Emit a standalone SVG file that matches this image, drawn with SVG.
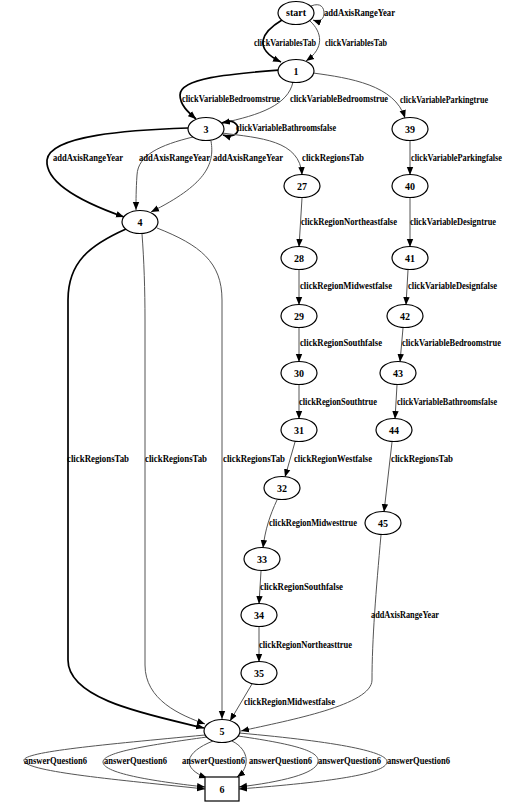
<svg xmlns="http://www.w3.org/2000/svg" width="521" height="810" viewBox="0 0 521 810">
<style>
.n ellipse,.n rect{fill:#fff;stroke:#000;stroke-width:1.2}
text{font-family:"Liberation Serif","Times New Roman",serif;font-size:10px;font-weight:bold;fill:#000}
.n text{text-anchor:middle}
.e{fill:none;stroke:#555;stroke-width:1;marker-end:url(#ah)}
.k{fill:none;stroke:#000;stroke-width:1.7;marker-end:url(#ah)}
</style>
<defs>
<marker id="ah" markerUnits="userSpaceOnUse" markerWidth="8" markerHeight="8" viewBox="0 0 10 10" refX="10" refY="5" orient="auto">
<path d="M0,1 L10,5 L0,9 Z" fill="#000"/>
</marker>
</defs>
<rect width="521" height="810" fill="#fff"/>
<g id="edges">
<path class="e" d="M311,6 C321,2 324,8 324,13 C324,18 321,23 313,20"/>
<path class="k" d="M282,20 C262,32 252,48 281,62"/>
<path class="e" d="M310,21 C322,32 325,48 306,61"/>
<path class="k" d="M279,70 C230,74 180,78 180,95 C180,105 188,112 196,119"/>
<path class="e" d="M293,82 C288,105 260,115 222,123"/>
<path class="e" d="M313,73 C350,78 395,85 405,118"/>
<path class="k" d="M222,123 C232,118 238,124 238,129 C238,134 232,138 223,135"/>
<path class="k" d="M188,128 C130,130 50,135 47,160 C45,185 90,205 124,217"/>
<path class="e" d="M193,137 C160,145 138,155 137,175 C136,190 136,200 136,210"/>
<path class="e" d="M211,141 C215,165 205,185 151,212"/>
<path class="e" d="M222,133 C260,138 300,140 302,175"/>
<path class="e" d="M410,141 L410,175"/>
<path class="e" d="M302,198 L299,247"/>
<path class="e" d="M299,270 L299,305"/>
<path class="e" d="M299,328 L299,362"/>
<path class="e" d="M299,385 L299,419"/>
<path class="e" d="M410,198 L410,247"/>
<path class="e" d="M408,270 L406,305"/>
<path class="e" d="M403,328 L400,362"/>
<path class="e" d="M397,385 L395,419"/>
<path class="e" d="M392,442 L384,512"/>
<path class="e" d="M295,442 L285,477"/>
<path class="e" d="M277,500 C270,515 265,530 263,548"/>
<path class="e" d="M261,571 L259,604"/>
<path class="e" d="M259,627 L259,662"/>
<path class="e" d="M252,684 L230,721"/>
<path class="e" d="M381,535 C376,590 372,640 372,680 C372,705 290,720 241,731"/>
<path class="k" d="M126,229 C90,245 68,262 68,300 L68,660 C68,700 150,715 204,728"/>
<path class="e" d="M142,234 C144,260 145,290 145,320 L145,665 C145,700 180,715 205,724"/>
<path class="e" d="M157,228 C200,245 222,262 222,300 L222,719"/>
<path class="e" d="M205,735 C100,745 20,752 24,761 C28,772 120,780 205,789"/>
<path class="e" d="M207,737 C150,745 103,752 103,762 C103,774 160,782 205,787"/>
<path class="e" d="M213,741 C185,752 180,768 207,778"/>
<path class="e" d="M232,741 C250,750 250,768 237,777"/>
<path class="e" d="M238,736 C300,745 320,752 318,762 C316,774 280,782 239,787"/>
<path class="e" d="M239,733 C340,742 388,752 387,762 C386,774 330,782 239,789"/>
</g>
<g id="edge-labels">
<text x="324" y="16" textLength="71" lengthAdjust="spacingAndGlyphs">addAxisRangeYear</text>
<text x="254" y="46" textLength="62" lengthAdjust="spacingAndGlyphs">clickVariablesTab</text>
<text x="325" y="46" textLength="62" lengthAdjust="spacingAndGlyphs">clickVariablesTab</text>
<text x="182" y="102" textLength="98" lengthAdjust="spacingAndGlyphs">clickVariableBedroomstrue</text>
<text x="290" y="102" textLength="98" lengthAdjust="spacingAndGlyphs">clickVariableBedroomstrue</text>
<text x="400" y="103" textLength="88" lengthAdjust="spacingAndGlyphs">clickVariableParkingtrue</text>
<text x="236" y="131" textLength="100" lengthAdjust="spacingAndGlyphs">clickVariableBathroomsfalse</text>
<text x="53" y="161" textLength="70" lengthAdjust="spacingAndGlyphs">addAxisRangeYear</text>
<text x="139" y="161" textLength="71" lengthAdjust="spacingAndGlyphs">addAxisRangeYear</text>
<text x="213" y="161" textLength="70" lengthAdjust="spacingAndGlyphs">addAxisRangeYear</text>
<text x="302" y="161" textLength="62" lengthAdjust="spacingAndGlyphs">clickRegionsTab</text>
<text x="411" y="161" textLength="91" lengthAdjust="spacingAndGlyphs">clickVariableParkingfalse</text>
<text x="301" y="225" textLength="96" lengthAdjust="spacingAndGlyphs">clickRegionNortheastfalse</text>
<text x="410" y="225" textLength="86" lengthAdjust="spacingAndGlyphs">clickVariableDesigntrue</text>
<text x="300" y="289" textLength="92" lengthAdjust="spacingAndGlyphs">clickRegionMidwestfalse</text>
<text x="408" y="289" textLength="89" lengthAdjust="spacingAndGlyphs">clickVariableDesignfalse</text>
<text x="300" y="346" textLength="82" lengthAdjust="spacingAndGlyphs">clickRegionSouthfalse</text>
<text x="402" y="346" textLength="99" lengthAdjust="spacingAndGlyphs">clickVariableBedroomstrue</text>
<text x="299" y="405" textLength="78" lengthAdjust="spacingAndGlyphs">clickRegionSouthtrue</text>
<text x="397" y="405" textLength="100" lengthAdjust="spacingAndGlyphs">clickVariableBathroomsfalse</text>
<text x="67" y="462" textLength="62" lengthAdjust="spacingAndGlyphs">clickRegionsTab</text>
<text x="145" y="462" textLength="62" lengthAdjust="spacingAndGlyphs">clickRegionsTab</text>
<text x="223" y="462" textLength="62" lengthAdjust="spacingAndGlyphs">clickRegionsTab</text>
<text x="294" y="462" textLength="78" lengthAdjust="spacingAndGlyphs">clickRegionWestfalse</text>
<text x="391" y="462" textLength="62" lengthAdjust="spacingAndGlyphs">clickRegionsTab</text>
<text x="269" y="526" textLength="88" lengthAdjust="spacingAndGlyphs">clickRegionMidwesttrue</text>
<text x="260" y="590" textLength="83" lengthAdjust="spacingAndGlyphs">clickRegionSouthfalse</text>
<text x="371" y="618" textLength="68" lengthAdjust="spacingAndGlyphs">addAxisRangeYear</text>
<text x="259" y="648" textLength="93" lengthAdjust="spacingAndGlyphs">clickRegionNortheasttrue</text>
<text x="244" y="705" textLength="91" lengthAdjust="spacingAndGlyphs">clickRegionMidwestfalse</text>
<text x="24" y="764" textLength="63" lengthAdjust="spacingAndGlyphs">answerQuestion6</text>
<text x="104" y="764" textLength="63" lengthAdjust="spacingAndGlyphs">answerQuestion6</text>
<text x="182" y="764" textLength="63" lengthAdjust="spacingAndGlyphs">answerQuestion6</text>
<text x="249" y="764" textLength="63" lengthAdjust="spacingAndGlyphs">answerQuestion6</text>
<text x="318" y="764" textLength="63" lengthAdjust="spacingAndGlyphs">answerQuestion6</text>
<text x="387" y="764" textLength="63" lengthAdjust="spacingAndGlyphs">answerQuestion6</text>
</g>
<g id="node-start" class="n"><ellipse cx="296" cy="13" rx="18" ry="11.5"/><text x="296" y="16">start</text></g>
<g id="node-1" class="n"><ellipse cx="296" cy="71" rx="18" ry="11.5"/><text x="296" y="74.5">1</text></g>
<g id="node-3" class="n"><ellipse cx="206" cy="129" rx="18" ry="11.5"/><text x="206" y="132.5">3</text></g>
<g id="node-39" class="n"><ellipse cx="410" cy="129" rx="18" ry="11.5"/><text x="410" y="132.5">39</text></g>
<g id="node-4" class="n"><ellipse cx="140" cy="222" rx="18" ry="11.5"/><text x="140" y="225.5">4</text></g>
<g id="node-27" class="n"><ellipse cx="302" cy="186" rx="18" ry="11.5"/><text x="302" y="189.5">27</text></g>
<g id="node-40" class="n"><ellipse cx="410" cy="186" rx="18" ry="11.5"/><text x="410" y="189.5">40</text></g>
<g id="node-28" class="n"><ellipse cx="299" cy="258" rx="18" ry="11.5"/><text x="299" y="261.5">28</text></g>
<g id="node-41" class="n"><ellipse cx="410" cy="258" rx="18" ry="11.5"/><text x="410" y="261.5">41</text></g>
<g id="node-29" class="n"><ellipse cx="299" cy="316" rx="18" ry="11.5"/><text x="299" y="319.5">29</text></g>
<g id="node-42" class="n"><ellipse cx="405" cy="316" rx="18" ry="11.5"/><text x="405" y="319.5">42</text></g>
<g id="node-30" class="n"><ellipse cx="299" cy="373" rx="18" ry="11.5"/><text x="299" y="376.5">30</text></g>
<g id="node-43" class="n"><ellipse cx="398" cy="373" rx="18" ry="11.5"/><text x="398" y="376.5">43</text></g>
<g id="node-31" class="n"><ellipse cx="299" cy="430" rx="18" ry="11.5"/><text x="299" y="433.5">31</text></g>
<g id="node-44" class="n"><ellipse cx="394" cy="430" rx="18" ry="11.5"/><text x="394" y="433.5">44</text></g>
<g id="node-32" class="n"><ellipse cx="282" cy="488" rx="18" ry="11.5"/><text x="282" y="491.5">32</text></g>
<g id="node-45" class="n"><ellipse cx="383" cy="523" rx="18" ry="11.5"/><text x="383" y="526.5">45</text></g>
<g id="node-33" class="n"><ellipse cx="262" cy="559" rx="18" ry="11.5"/><text x="262" y="562.5">33</text></g>
<g id="node-34" class="n"><ellipse cx="259" cy="615" rx="18" ry="11.5"/><text x="259" y="618.5">34</text></g>
<g id="node-35" class="n"><ellipse cx="259" cy="673" rx="18" ry="11.5"/><text x="259" y="676.5">35</text></g>
<g id="node-5" class="n"><ellipse cx="222" cy="731" rx="18" ry="11.5"/><text x="222" y="734.5">5</text></g>
<g id="node-6" class="n"><rect x="205" y="777" width="34" height="24"/><text x="222" y="792.5">6</text></g>
</svg>
